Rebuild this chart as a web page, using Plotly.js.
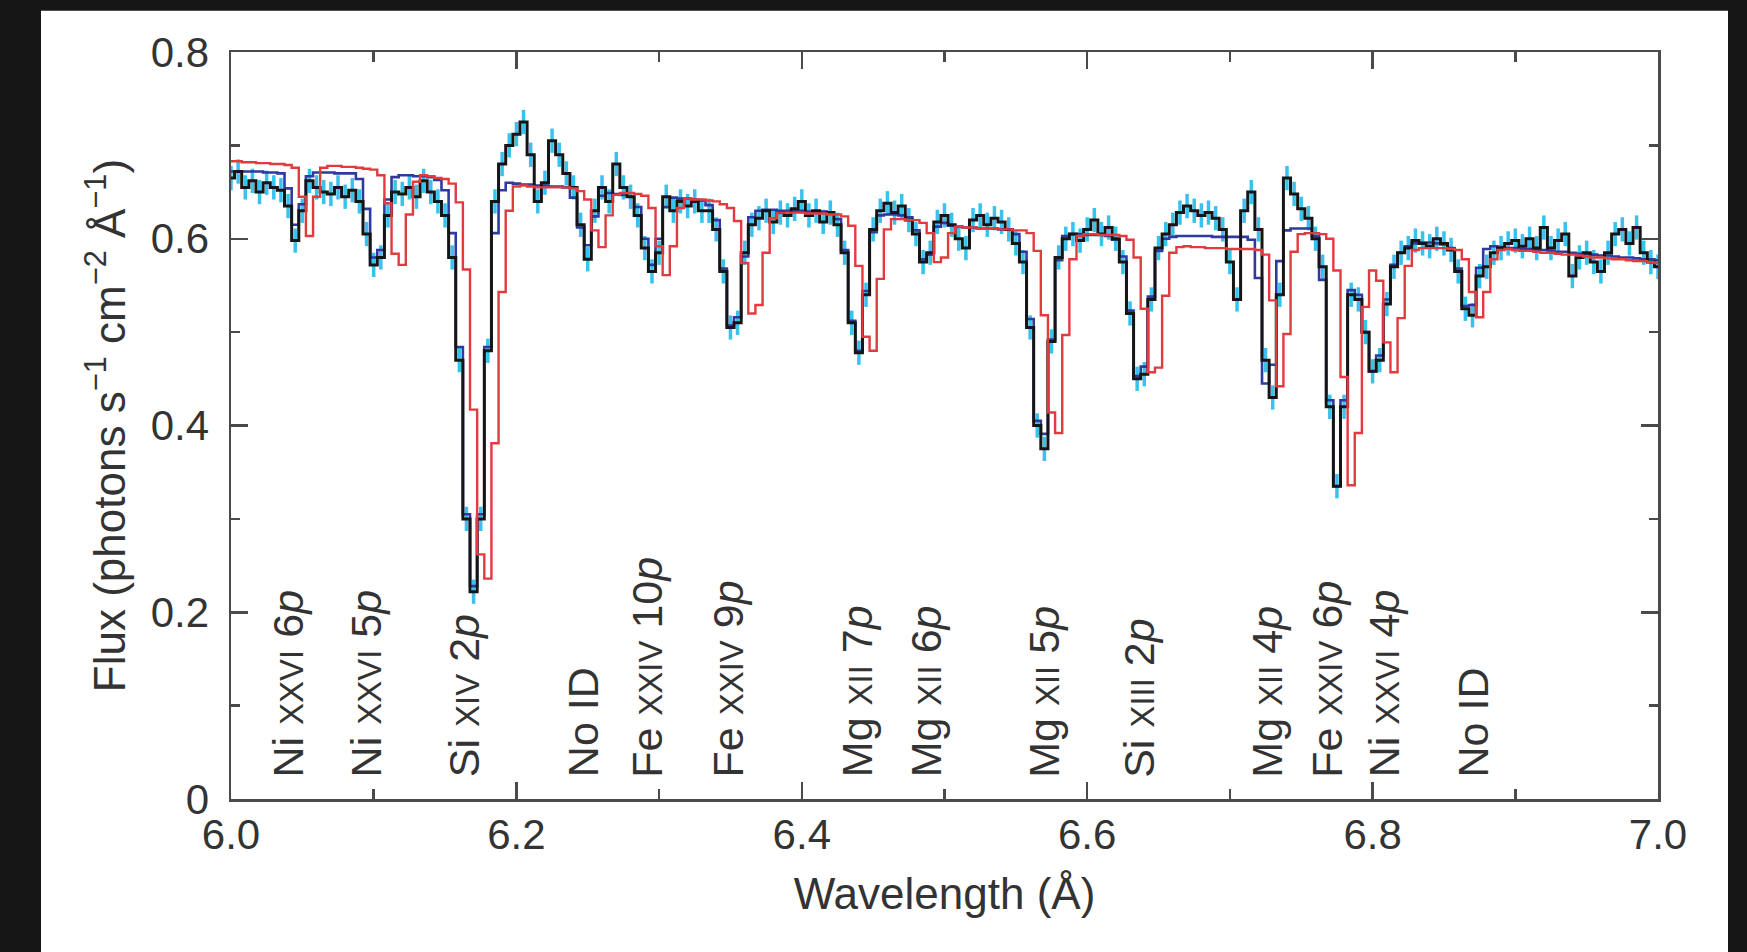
<!DOCTYPE html>
<html>
<head>
<meta charset="utf-8">
<script src="https://cdn.plot.ly/plotly-3.0.1.min.js"></script>
<style>
html,body{margin:0;padding:0;background:#161616;}
#chart{width:1747px;height:952px;}
</style>
</head>
<body>
<div id="chart"></div>
<script>
// ---- spectral bins (bin centres, Å) ----
const binStart = 6.0;
const binWidth = 0.005;
const nBins = 201;
const wavelength = Array.from({length: nBins}, (_, i) => +(binStart + i * binWidth).toFixed(3));

// ---- observed flux (photons s^-1 cm^-2 Å^-1) ----
const fluxData = [
  0.665,0.672,0.655,0.662,0.650,0.660,0.655,0.652,0.635,0.598,
  0.630,0.662,0.655,0.650,0.648,0.655,0.645,0.652,0.640,0.605,
  0.572,0.580,0.625,0.650,0.648,0.655,0.645,0.662,0.650,0.640,
  0.625,0.580,0.470,0.300,0.222,0.300,0.480,0.640,0.680,0.700,
  0.712,0.725,0.690,0.640,0.660,0.705,0.690,0.670,0.655,0.615,
  0.578,0.630,0.655,0.640,0.680,0.655,0.645,0.625,0.590,0.565,
  0.585,0.645,0.630,0.640,0.635,0.640,0.630,0.630,0.610,0.565,
  0.505,0.510,0.585,0.615,0.622,0.630,0.618,0.628,0.625,0.632,
  0.640,0.625,0.630,0.618,0.628,0.615,0.585,0.510,0.478,0.540,
  0.610,0.630,0.638,0.628,0.635,0.620,0.605,0.575,0.585,0.618,
  0.625,0.615,0.600,0.590,0.620,0.625,0.615,0.622,0.618,0.610,
  0.595,0.575,0.505,0.400,0.375,0.490,0.580,0.600,0.605,0.598,
  0.610,0.620,0.605,0.612,0.600,0.575,0.520,0.450,0.455,0.535,
  0.590,0.605,0.615,0.628,0.635,0.630,0.625,0.628,0.622,0.610,
  0.575,0.535,0.630,0.650,0.610,0.470,0.430,0.540,0.665,0.648,
  0.632,0.622,0.600,0.570,0.420,0.335,0.420,0.540,0.535,0.500,
  0.458,0.470,0.530,0.570,0.585,0.590,0.598,0.595,0.592,0.600,
  0.595,0.588,0.565,0.525,0.518,0.560,0.570,0.585,0.590,0.595,
  0.598,0.592,0.600,0.590,0.612,0.590,0.598,0.605,0.560,0.580,
  0.585,0.575,0.565,0.585,0.605,0.610,0.595,0.612,0.585,0.575,
  0.570
];
const fluxError = 0.013;

// ---- blue (blueshifted) model ----
const modelBlue = [
  0.672,0.672,0.672,0.672,0.672,0.671,0.671,0.670,0.654,0.615,
  0.637,0.667,0.671,0.671,0.671,0.670,0.670,0.670,0.664,0.632,
  0.580,0.588,0.642,0.666,0.668,0.668,0.667,0.667,0.666,0.663,
  0.652,0.606,0.484,0.305,0.228,0.305,0.484,0.606,0.652,0.660,
  0.659,0.658,0.658,0.657,0.657,0.656,0.656,0.655,0.644,0.612,
  0.593,0.624,0.646,0.649,0.648,0.647,0.645,0.634,0.600,0.572,
  0.600,0.634,0.644,0.643,0.643,0.642,0.641,0.636,0.620,0.568,
  0.507,0.516,0.581,0.623,0.630,0.631,0.631,0.630,0.630,0.630,
  0.630,0.629,0.629,0.629,0.628,0.621,0.588,0.512,0.480,0.544,
  0.607,0.625,0.626,0.626,0.625,0.623,0.609,0.578,0.583,0.613,
  0.617,0.614,0.613,0.612,0.612,0.611,0.611,0.611,0.610,0.610,
  0.605,0.586,0.514,0.405,0.391,0.492,0.577,0.603,0.605,0.605,
  0.604,0.604,0.604,0.603,0.599,0.581,0.523,0.453,0.463,0.538,
  0.587,0.600,0.602,0.603,0.603,0.603,0.603,0.603,0.602,0.602,
  0.602,0.602,0.602,0.599,0.558,0.445,0.465,0.576,0.609,0.611,
  0.611,0.611,0.603,0.556,0.427,0.335,0.427,0.545,0.540,0.500,
  0.458,0.475,0.535,0.572,0.585,0.592,0.595,0.596,0.596,0.595,
  0.594,0.590,0.568,0.528,0.529,0.569,0.589,0.592,0.591,0.590,
  0.590,0.589,0.589,0.588,0.588,0.587,0.586,0.586,0.585,0.584,
  0.584,0.583,0.582,0.582,0.581,0.580,0.580,0.579,0.578,0.578,
  0.577
];

// ---- red (rest-frame) model ----
const modelRed = [
  0.683,0.683,0.682,0.682,0.681,0.681,0.680,0.680,0.679,0.676,
  0.645,0.603,0.645,0.676,0.678,0.678,0.677,0.677,0.676,0.675,
  0.674,0.668,0.638,0.584,0.572,0.626,0.661,0.668,0.667,0.665,
  0.664,0.659,0.639,0.567,0.417,0.262,0.236,0.381,0.543,0.630,
  0.656,0.657,0.656,0.655,0.655,0.655,0.655,0.655,0.654,0.651,
  0.642,0.609,0.591,0.625,0.647,0.649,0.649,0.648,0.646,0.633,
  0.592,0.561,0.592,0.633,0.643,0.642,0.642,0.641,0.640,0.637,
  0.633,0.619,0.574,0.520,0.529,0.585,0.622,0.628,0.628,0.628,
  0.628,0.627,0.627,0.627,0.626,0.626,0.624,0.614,0.571,0.495,
  0.480,0.557,0.610,0.621,0.621,0.620,0.620,0.617,0.606,0.575,
  0.580,0.606,0.613,0.612,0.612,0.611,0.611,0.611,0.610,0.610,
  0.609,0.609,0.606,0.587,0.518,0.414,0.392,0.497,0.578,0.603,
  0.605,0.605,0.604,0.604,0.604,0.603,0.599,0.580,0.525,0.457,
  0.462,0.539,0.585,0.591,0.592,0.591,0.591,0.590,0.590,0.590,
  0.589,0.589,0.589,0.589,0.588,0.583,0.534,0.442,0.498,0.586,
  0.605,0.606,0.606,0.605,0.600,0.566,0.452,0.336,0.392,0.527,
  0.566,0.555,0.489,0.457,0.515,0.571,0.588,0.590,0.590,0.590,
  0.590,0.589,0.588,0.578,0.543,0.516,0.543,0.578,0.588,0.589,
  0.588,0.587,0.587,0.586,0.585,0.585,0.584,0.583,0.583,0.582,
  0.581,0.580,0.580,0.579,0.578,0.578,0.577,0.576,0.576,0.575,
  0.574
];

// ---- line identifications ----
const lineWavelength = [6.040, 6.0946, 6.1635, 6.2472, 6.2915, 6.348, 6.4392, 6.487, 6.570, 6.6366, 6.7262, 6.768, 6.8086, 6.8704];
const lineElement = ['Ni', 'Ni', 'Si', 'No ID', 'Fe', 'Fe', 'Mg', 'Mg', 'Mg', 'Si', 'Mg', 'Fe', 'Ni', 'No ID'];
const lineStage   = ['XXVI', 'XXVI', 'XIV', '', 'XXIV', 'XXIV', 'XII', 'XII', 'XII', 'XIII', 'XII', 'XXIV', 'XXVI', ''];
const lineLevel   = ['6', '5', '2', '', '10', '9', '7', '6', '5', '2', '4', '6', '4', ''];

// ---- axis ticks ----
const xTickVals = [6.0, 6.2, 6.4, 6.6, 6.8, 7.0];
const xTickText = ['6.0', '6.2', '6.4', '6.6', '6.8', '7.0'];
const yTickVals = [0, 0.2, 0.4, 0.6, 0.8];
const yTickText = ['0', '0.2', '0.4', '0.6', '0.8'];

const FONT = 'Liberation Sans, Arial, Helvetica, sans-serif';
const TEXT = '#333333';
const AXC = '#4a4a4a';
const labelSize = 43, smallCapSize = 33;

const traces = [
  { x: wavelength, y: fluxData, type: 'scatter', mode: 'markers',
    marker: {size: 1, color: 'rgba(0,0,0,0)'},
    error_y: {type: 'constant', value: fluxError, color: '#38c2ee', thickness: 3.5, width: 0},
    hoverinfo: 'skip', showlegend: false },
  { x: wavelength, y: modelBlue, type: 'scatter', mode: 'lines',
    line: {shape: 'hvh', color: '#2f3a9e', width: 2.6}, showlegend: false },
  { x: wavelength, y: fluxData, type: 'scatter', mode: 'lines',
    line: {shape: 'hvh', color: '#151515', width: 3}, showlegend: false },
  { x: wavelength, y: modelRed, type: 'scatter', mode: 'lines',
    line: {shape: 'hvh', color: '#e23b3f', width: 2.4}, showlegend: false }
];

const annotations = lineWavelength.map((w, i) => {
  let txt;
  if (lineStage[i] === '') {
    txt = lineElement[i];
  } else {
    txt = lineElement[i] + ' <span style="font-size:' + smallCapSize + 'px">' + lineStage[i] + '</span> ' +
          lineLevel[i] + '<i>p</i>';
  }
  return { x: w, y: 0.021, xref: 'x', yref: 'y', text: txt, showarrow: false,
           textangle: -90, xanchor: 'center', yanchor: 'bottom',
           font: {family: FONT, size: labelSize, color: TEXT} };
});

const axisCommon = {
  showgrid: false, zeroline: false, showline: true, linecolor: AXC, linewidth: 2.5,
  mirror: 'ticks', ticks: 'inside', ticklen: 17, tickwidth: 2.5, tickcolor: AXC,
  tickfont: {family: FONT, size: 42, color: TEXT}
};

const layout = {
  width: 1747, height: 952, autosize: false,
  paper_bgcolor: '#161616', plot_bgcolor: 'rgba(0,0,0,0)',
  margin: {l: 231, r: 89, t: 52, b: 153, pad: 0},
  showlegend: false,
  xaxis: Object.assign({}, axisCommon, {
    range: [6.0, 7.0], tickmode: 'array', tickvals: xTickVals, ticktext: xTickText,
    ticklabelstandoff: -3,
    minor: {tickmode: 'linear', tick0: 6.0, dtick: 0.1, ticks: 'inside', ticklen: 10, tickwidth: 2.5, tickcolor: AXC},
    title: {text: 'Wavelength (Å)', font: {family: FONT, size: 44, color: TEXT}, standoff: 22}
  }),
  yaxis: Object.assign({}, axisCommon, {
    range: [0, 0.8], tickmode: 'array', tickvals: yTickVals, ticktext: yTickText,
    ticklabelstandoff: 11,
    minor: {tickmode: 'linear', tick0: 0, dtick: 0.1, ticks: 'inside', ticklen: 9, tickwidth: 2.5, tickcolor: AXC},
    title: {text: 'Flux (photons s<sup>−1</sup> cm<sup>−2</sup> Å<sup>−1</sup>)', font: {family: FONT, size: 44, color: TEXT}, standoff: 12}
  }),
  shapes: [
    {type: 'rect', xref: 'paper', yref: 'paper', layer: 'below',
     x0: -0.13315, x1: 1.04905, y0: -0.21, y1: 1.05529,
     fillcolor: '#ffffff', line: {width: 0}}
  ],
  annotations: annotations
};

Plotly.newPlot('chart', traces, layout, {displayModeBar: false, staticPlot: true});
</script>
</body>
</html>
